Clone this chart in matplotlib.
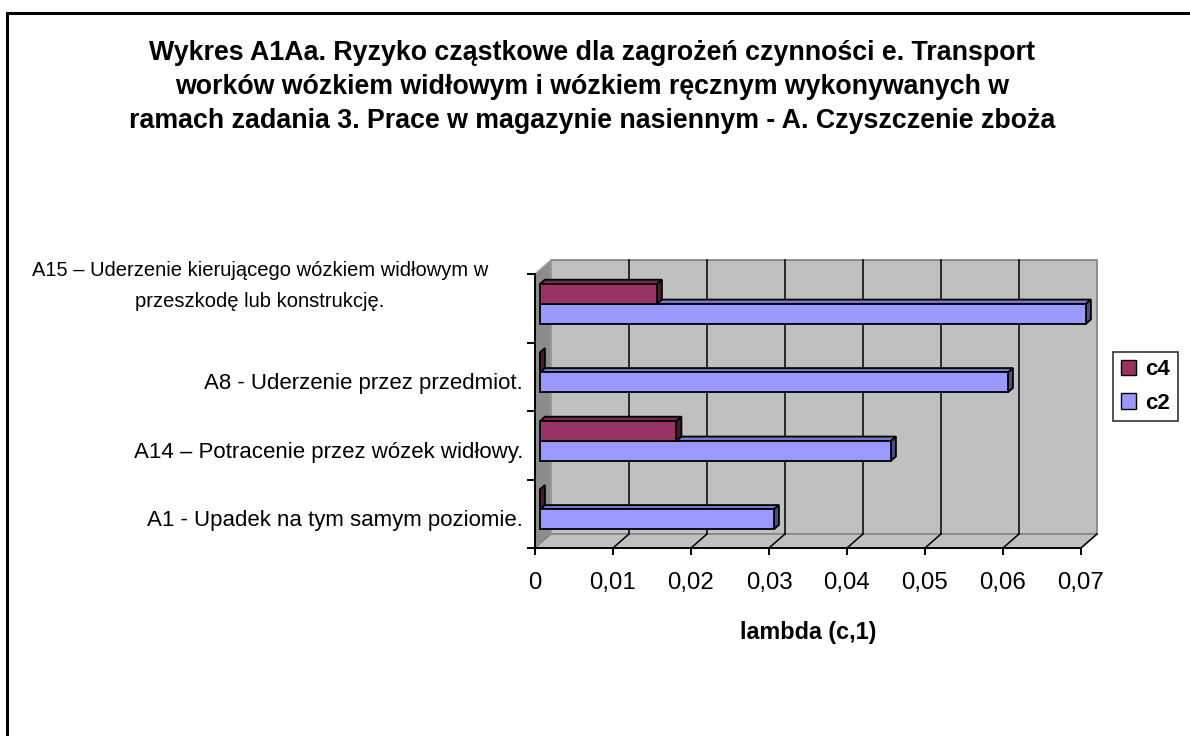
import matplotlib
matplotlib.use('Agg')
import matplotlib.pyplot as plt
from matplotlib.patches import Polygon, Rectangle, Patch
import numpy as np

plt.rcParams['font.family'] = ['Liberation Sans', 'DejaVu Sans']

# dane
categories = ['A1 - Upadek na tym samym poziomie.',
              'A14 – Potracenie przez wózek widłowy.',
              'A8 - Uderzenie przez przedmiot.',
              'A15 – Uderzenie kierującego wózkiem widłowym w\nprzeszkodę lub konstrukcję.']
c2 = [0.03, 0.045, 0.06, 0.07]
c4 = [0.0, 0.0175, 0.0, 0.015]
series_names = ['c4', 'c2']
xticks = [0, 0.01, 0.02, 0.03, 0.04, 0.05, 0.06, 0.07]
xlabels = ['0', '0,01', '0,02', '0,03', '0,04', '0,05', '0,06', '0,07']
title = ('Wykres A1Aa. Ryzyko cząstkowe dla zagrożeń czynności e. Transport\n'
         'worków wózkiem widłowym i wózkiem ręcznym wykonywanych w\n'
         'ramach zadania 3. Prace w magazynie nasiennym - A. Czyszczenie zboża')
xlabel = 'lambda (c,1)'

col_c4 = '#993366'
col_c2 = '#9999FF'

W, H = 1190, 736
fig = plt.figure(figsize=(W / 100, H / 100), dpi=100)
fig.patch.set_facecolor('white')

# ramka wykresu (gorna i lewa krawedz)
fig.add_artist(Rectangle((7 / W, -0.1), 1.5, (H - 13) / H + 0.1, transform=fig.transFigure,
                         fill=False, ec='black', lw=2.2))

ax = fig.add_axes([535 / W, 188 / H, 546 / W, 274 / H])
ax.set_xlim(0, 0.07)
ax.set_ylim(-0.5, 3.5)
ax.patch.set_alpha(0)

xmax = 0.07
px_x = xmax / 546.0     # jednostki na piksel
px_y = 4 / 274.0
wdx, wdy = 16 * px_x, 14 * px_y   # glebokosc scian

def poly(pts, fc, ec, lw=1.0, z=1):
    ax.add_patch(Polygon(pts, closed=True, fc=fc, ec=ec, lw=lw, zorder=z, clip_on=False))

# sciany 3D
poly([(wdx, -0.5 + wdy), (xmax + wdx, -0.5 + wdy), (xmax + wdx, 3.5 + wdy), (wdx, 3.5 + wdy)],
     '#C0C0C0', '#808080', 1.2, 0)
poly([(0, -0.5), (wdx, -0.5 + wdy), (wdx, 3.5 + wdy), (0, 3.5)], '#8C8C8C', '#A0A0A0', 1.0, 0.5)
poly([(0, -0.5), (xmax, -0.5), (xmax + wdx, -0.5 + wdy), (wdx, -0.5 + wdy)],
     '#C0C0C0', '#808080', 1.0, 0.5)
for t in xticks[1:]:
    if t < xmax:
        ax.plot([t + wdx, t + wdx], [-0.5 + wdy, 3.5 + wdy], color='black', lw=1.1, zorder=0.6,
                clip_on=False)
    ax.plot([t, t + wdx], [-0.5, -0.5 + wdy], color='black', lw=1.1, zorder=0.6, clip_on=False)

# slupki 3D
def darker(c, f):
    rgb = np.array(matplotlib.colors.to_rgb(c))
    return tuple(rgb * f)

bfrac0, bfrac1 = 0.31, 0.62
bx, by = bfrac0 * wdx, bfrac0 * wdy
ddx, ddy = (bfrac1 - bfrac0) * wdx, (bfrac1 - bfrac0) * wdy
bh = 0.29

def bar3d(y0, val, col, z):
    x0 = bx
    y0 = y0 + by
    y1 = y0 + bh
    poly([(x0, y1), (x0 + val, y1), (x0 + val + ddx, y1 + ddy), (x0 + ddx, y1 + ddy)],
         darker(col, 0.78), 'black', 1.3, z)
    poly([(x0 + val, y0), (x0 + val + ddx, y0 + ddy), (x0 + val + ddx, y1 + ddy), (x0 + val, y1)],
         darker(col, 0.5), 'black', 1.3, z)
    poly([(x0, y0), (x0 + val, y0), (x0 + val, y1), (x0, y1)], col, 'black', 1.3, z)

for i in range(len(categories)):
    bar3d(i - bh, c2[i], col_c2, 2 + i * 0.1)
    bar3d(i, c4[i], col_c4, 2.05 + i * 0.1)

# osie
for s in ['top', 'right']:
    ax.spines[s].set_visible(False)
for s in ['left', 'bottom']:
    ax.spines[s].set_color('black')
    ax.spines[s].set_linewidth(1.4)
    ax.spines[s].set_zorder(3)
ax.set_xticks(xticks)
ax.set_xticklabels(xlabels)
ax.tick_params(axis='x', direction='out', length=5, width=1.4, pad=12, labelsize=17.3)
ax.set_yticks(np.arange(-0.5, 4.0, 1.0))
ax.set_yticklabels([])
ax.tick_params(axis='y', direction='out', length=6, width=1.4)

for i, lab in enumerate(categories):
    if '\n' in lab:
        ax.annotate(lab, xy=(0, i), xycoords='data', xytext=(-198, 16), textcoords='offset points',
                    ha='center', va='center', multialignment='center', fontsize=14.5,
                    linespacing=1.75)
    else:
        ax.annotate(lab, xy=(0, i), xycoords='data', xytext=(-8.6, -5), textcoords='offset points',
                    ha='right', va='center', fontsize=16)

ax.set_xlabel(xlabel, fontsize=16.8, fontweight='bold', labelpad=20)

fig.text(592 / W, 1 - 87 / H, title, ha='center', va='center', fontsize=19.3, fontweight='bold',
         linespacing=1.42)

handles = [Patch(fc=col_c4, ec='black', lw=1), Patch(fc=col_c2, ec='black', lw=1)]
leg = fig.legend(handles, series_names, loc='center left', bbox_to_anchor=(1113 / W, 1 - 386.5 / H),
                 frameon=True, fancybox=False, edgecolor='black', prop={'weight': 'bold', 'size': 16},
                 handlelength=0.7, handleheight=0.7, handletextpad=0.4, borderpad=0.35,
                 labelspacing=0.55, borderaxespad=0)
leg.get_frame().set_linewidth(1.2)

fig.savefig('out.png', dpi=100, facecolor='white')
